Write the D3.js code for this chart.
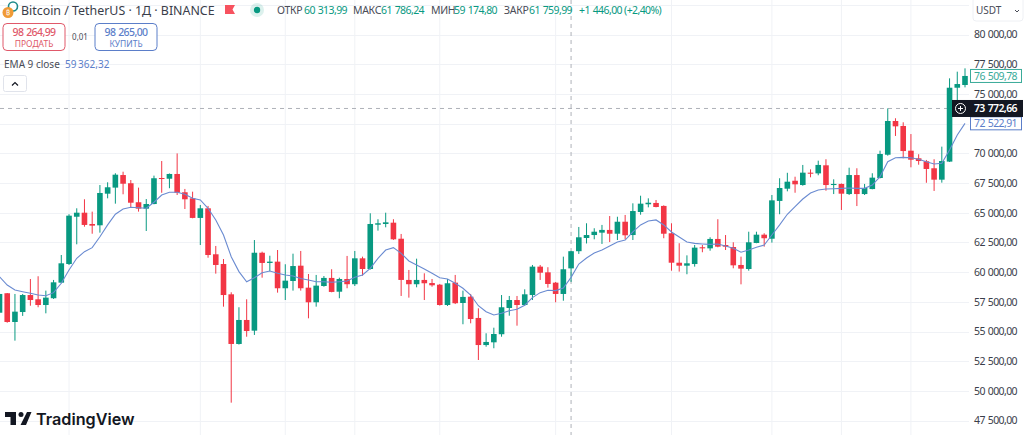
<!DOCTYPE html>
<html>
<head>
<meta charset="utf-8">
<script src="https://cdn.jsdelivr.net/npm/d3@7"></script>
<style>
html,body{margin:0;padding:0;background:#fff;overflow:hidden;}
text{font-family:"Noto Sans",sans-serif;}
.num{letter-spacing:-0.6px;}
</style>
</head>
<body>
<div id="chart"></div>
<script>
var opens=[56580,58220,55800,56640,58070,57710,57230,57800,59110,60680,64660,65000,64050,63940,66600,67110,68170,67480,65880,65340,
65730,67920,67860,68260,66720,66210,64560,65370,61500,60680,58130,53950,55970,55070,61630,60770,60880,58640,59250,60540,
58690,57460,58830,59510,58350,59420,58980,61160,60260,63990,64050,64160,62810,59340,58980,59340,59080,58940,57230,59110,
57400,57930,56140,53860,54090,54770,56980,57650,57230,58070,60460,59980,59110,58160,60313.99,61760,62870,63120,63320,63550,
63230,64240,63120,65060,65710,65820,65570,63270,60790,60540,60680,62090,62000,62790,62280,62110,60600,60260,62450,63150,
62810,65990,67020,67690,67330,68370,68310,68990,67330,67420,66570,68170,66570,66990,67920,69880,72720,72300,70220,69580,
69330,68740,67780,69300,75520,75750];
var highs=[58350,58240,58160,58160,59420,59650,58440,59340,61440,64870,65370,66130,65090,67330,67560,68320,68450,67750,67110,66150,
68120,69350,68300,69990,67000,66770,65650,65570,62200,61100,58300,57040,57710,62700,61720,61380,61860,60660,61550,61780,
59840,59760,59670,60240,59530,61360,61780,61300,64950,64450,65000,64450,63210,60180,61130,59900,59420,59000,59420,59760,
58440,58160,56950,54850,55320,58070,57990,57990,58550,60600,60600,60410,59170,61300,61786.24,63800,64110,63690,63970,64720,
64660,64810,65790,66430,66210,66070,65620,64110,62430,61410,62280,62280,62930,64450,63120,62510,61300,63400,63400,63270,
66490,67900,68360,68030,69020,68650,69380,69500,67810,67460,68790,68740,67420,68320,70220,73780,72950,72610,71620,69920,
69440,69500,70560,76310,76870,77150];
var lows=[56530,55740,54230,56310,57170,57040,56530,57740,59060,60600,62340,63820,63230,63320,66210,65760,66550,65450,65090,63460,
65710,66680,67060,66490,65310,64530,62280,61210,59870,57090,49010,53900,54560,54710,59530,60090,58270,57650,58440,58440,
56110,57090,58770,58300,57800,58640,58830,59700,60210,63490,63770,62710,57990,57850,58720,57650,58770,57180,57150,57310,
55610,55690,52600,53720,53590,54560,56330,55490,57170,57650,59340,58690,57460,57590,59174.8,61530,62410,62760,62370,62530,
62700,62760,62700,64830,65450,65450,62850,60120,60040,59820,60460,61670,61800,62090,61860,60320,58970,60120,62430,62140,
62480,64870,66800,66680,67270,67980,68150,66850,66570,65230,66490,65560,66490,66970,67890,69800,71460,69580,68820,69040,
67520,66830,67530,69270,74230,75550];
var closes=[58160,55800,56670,58070,57650,57230,57850,59140,60740,64750,65000,63970,63910,66660,67140,68200,67440,65840,65340,65730,
67900,67840,68260,66680,66130,64560,65370,61440,60600,58070,53950,55970,55040,61630,60770,60880,58640,59280,60510,58640,
57460,58860,59510,58330,59420,58980,61160,60260,64050,64110,64190,62760,59340,58980,59340,59060,58890,57230,59060,57380,
57910,56050,53860,54120,54790,57040,57650,57230,58130,60460,59950,59000,58160,60240,61759.99,62930,63120,63400,63550,63230,
64240,63100,65140,65760,65840,65480,63230,60790,60540,60740,62060,62000,62790,62140,62140,60570,60290,62510,63150,62850,
66040,67080,67610,67390,68370,68280,69020,67330,67420,66600,68170,66570,67080,67950,69940,72720,72270,70190,69460,69350,
68680,67780,69350,75520,75830,76509.78];
var ema=[59610,58910,58490,58350,58220,58070,58010,58270,59060,60180,61160,61720,62060,62980,63970,64870,65310,65460,65420,65370,
65880,66490,66720,66720,66550,66210,66070,65370,64390,63120,61300,60040,59190,59530,59950,60090,59900,59760,59670,59460,
59340,59190,59190,59140,59190,59250,59560,59760,60320,61160,61860,62060,61580,60940,60600,60260,59900,59530,59420,59060,
58640,58070,57170,56670,56390,56530,56750,56870,57210,57850,58270,58470,58440,58660,59560,60680,61190,61610,61860,62200,
62530,62700,63380,63970,64300,64390,63970,63380,62960,62530,62420,62370,62330,62370,62200,62000,61670,61860,62090,62280,
63120,63970,64870,65510,66150,66660,66910,67000,67020,67050,67080,67050,67050,67330,68030,69290,69630,69660,69630,69500,
69290,69100,69160,70280,71540,72522.91];
var gridCandles=[9,26,37,46,57,72,87,100,109,118];
var priceTicks=[47500,50000,52500,55000,57500,60000,62500,65000,67500,70000,72500,75000,77500,80000,82500];
var ohlcLabels=[["ОТКР","60\u2004313,99",277,304],["МАКС","61\u2004786,24",353,381],["МИН","59\u2004174,80",431,454],["ЗАКР","61\u2004759,99",504,529]];
var crossIndex=74, crossPrice=73772.66, lastClose=76509.78, lastEma=72522.91;

var width=1024, height=435, plotRight=969;
var red="#f23645", green="#089981", blue="#6a8bd1", txt="#4a4d58";

var svg=d3.select('#chart').append('svg')
    .attr('width', width)
    .attr('height', height)
    .style('display','block');

var x=d3.scalePoint()
    .domain(d3.range(opens.length))
    .range([-0.5, 965]);

var y=d3.scaleLinear()
    .domain([47500, 80000])
    .range([420.6, 34.5]);

var ru=d3.formatLocale({decimal:",", thousands:"\u2004", grouping:[3], currency:["",""]});
var price=ru.format(",.2f");

// grid
svg.append('g').selectAll('line').data(priceTicks).join('line')
    .attr('x1',0).attr('x2',plotRight)
    .attr('y1',d=>Math.round(y(d))+0.5).attr('y2',d=>Math.round(y(d))+0.5)
    .attr('stroke','#f0f2f6');
svg.append('g').selectAll('line').data(gridCandles).join('line')
    .attr('x1',d=>x(d)).attr('x2',d=>x(d))
    .attr('y1',0).attr('y2',height)
    .attr('stroke','#f0f2f6');

// price axis, 72 500 sits under the EMA label so it is left out
var axis=svg.append('g')
    .attr('transform','translate(1017,0)')
    .call(d3.axisLeft(y).tickValues(priceTicks.filter(d=>d<=80000 && d!=72500)).tickSize(0).tickPadding(0).tickFormat(price));
axis.select('.domain').remove();
axis.selectAll('text').attr('class','num').style('font-size','10.5px').style('font-family','"Noto Sans",sans-serif').attr('fill','#3a3e4a');

// crosshair
svg.append('line').attr('x1',0).attr('x2',952)
    .attr('y1',y(crossPrice)).attr('y2',y(crossPrice))
    .attr('stroke','#aeb1b9').attr('stroke-dasharray','4,4');
svg.append('line').attr('x1',x(crossIndex)).attr('x2',x(crossIndex))
    .attr('y1',0).attr('y2',height)
    .attr('stroke','#aeb1b9').attr('stroke-dasharray','4,4');

// candles
var idx=d3.range(opens.length);
var color=i=>closes[i]>=opens[i]?green:red;
svg.append('g').selectAll('line').data(idx).join('line')
    .attr('x1',i=>x(i)).attr('x2',i=>x(i))
    .attr('y1',i=>y(highs[i])).attr('y2',i=>y(lows[i]))
    .attr('stroke',color).attr('stroke-width',1);
svg.append('g').selectAll('rect').data(idx).join('rect')
    .attr('x',i=>x(i)-2.8)
    .attr('width',5.6)
    .attr('y',i=>y(Math.max(opens[i],closes[i])))
    .attr('height',i=>Math.max(1,Math.abs(y(opens[i])-y(closes[i]))))
    .attr('fill',color);

// EMA
svg.append('path')
    .attr('d',d3.line().x((d,i)=>x(i)).y(d=>y(d))(ema))
    .attr('fill','none').attr('stroke',blue).attr('stroke-width',1.1);

// header
var head=svg.append('g');
head.append('circle').attr('cx',13).attr('cy',6.5).attr('r',4.5).attr('fill','#fff').attr('stroke','#1e8a8a').attr('stroke-width',1.6);
head.append('circle').attr('cx',8).attr('cy',12.5).attr('r',5.5).attr('fill','#f09a36');
head.append('text').attr('x',8).attr('y',15).attr('text-anchor','middle').attr('font-size',7).attr('fill','#fff').text('₿');
head.append('text').attr('x',21).attr('y',15).attr('font-size',12.4).attr('fill','#3a3e4a').text('Bitcoin / TetherUS · 1Д · BINANCE');
head.append('path').attr('d','M225 5H235L232.5 9.5L235 14H225Z').attr('fill','#f7525f');
head.append('circle').attr('cx',257).attr('cy',10).attr('r',7).attr('fill','#089981').attr('opacity',0.14);
head.append('circle').attr('cx',257).attr('cy',10).attr('r',3.2).attr('fill','#089981');
ohlcLabels.forEach(function(d){
    head.append('text').attr('x',d[2]).attr('y',14).attr('font-size',10.5).attr('fill',txt).attr('letter-spacing',-0.3).text(d[0]);
    head.append('text').attr('class','num').attr('x',d[3]).attr('y',14).attr('font-size',10.5).attr('fill',green).text(d[1]);
});
head.append('text').attr('class','num').attr('x',579).attr('y',14).attr('font-size',10.5).attr('fill',green).text('+1\u2004446,00 (+2,40%)');

// buy and sell boxes
function tradeBox(x0,col,val,label){
    head.append('rect').attr('x',x0).attr('y',23.5).attr('width',62).attr('height',27).attr('rx',4)
        .attr('fill','#fff').attr('stroke',col);
    head.append('text').attr('class','num').attr('x',x0+31).attr('y',36).attr('text-anchor','middle').attr('font-size',10.5).attr('font-weight',500).attr('fill',col).text(val);
    head.append('text').attr('x',x0+31).attr('y',47).attr('text-anchor','middle').attr('font-size',8.5).attr('fill',col).text(label);
}
tradeBox(3,'#e0596a','98\u2004264,99','ПРОДАТЬ');
tradeBox(95,'#5b7ec9','98\u2004265,00','КУПИТЬ');
head.append('text').attr('x',80).attr('y',40).attr('text-anchor','middle').attr('font-size',8).attr('fill',txt).text('0,01');
head.append('text').attr('x',4).attr('y',68).attr('font-size',10).attr('fill',txt).text('EMA 9 close');
head.append('text').attr('x',65).attr('y',68).attr('font-size',10).attr('fill','#5b7ec9').text('59\u2009362,32');
head.append('rect').attr('x',3.5).attr('y',75.5).attr('width',23).attr('height',16).attr('rx',2).attr('fill','#fff').attr('stroke','#e0e3eb');
head.append('path').attr('d','M12 85.5L15 82.5L18 85.5').attr('fill','none').attr('stroke','#131722').attr('stroke-width',1.2);

// currency box
head.append('rect').attr('x',973).attr('y',-3).attr('width',50).attr('height',24).attr('rx',3).attr('fill','#fff').attr('stroke','#eef0f4');
head.append('text').attr('x',976).attr('y',14).attr('font-size',10).attr('fill',txt).text('USDT');
head.append('path').attr('d','M1015 10L1017 12L1019 10').attr('fill','none').attr('stroke',txt);

// price labels
function priceLabel(v,col){
    var cy=y(v);
    svg.append('rect').attr('x',970.5).attr('y',cy-6.5).attr('width',51).attr('height',13).attr('fill','#fff').attr('stroke',col);
    svg.append('text').attr('class','num').attr('x',1017).attr('y',cy+4).attr('text-anchor','end').attr('font-size',10.5).attr('fill',col).text(price(v));
}
priceLabel(lastClose,'#3aab99');
priceLabel(lastEma,'#5b7ec9');
var cy=y(crossPrice);
svg.append('rect').attr('x',952).attr('y',cy-8.5).attr('width',71).attr('height',17).attr('fill','#131722');
svg.append('text').attr('class','num').attr('x',1017).attr('y',cy+4).attr('text-anchor','end').attr('font-size',10.5).attr('font-weight',600).attr('fill','#fff').text(price(crossPrice));
svg.append('circle').attr('cx',960.5).attr('cy',cy).attr('r',5).attr('fill','none').attr('stroke','#fff');
svg.append('path').attr('d','M958 '+cy+'H963M960.5 '+(cy-2.5)+'V'+(cy+2.5)).attr('stroke','#fff');

// logo
svg.append('path').attr('d','M5 412H16V425H10.5V417H5ZM27 412H31.5L26 425H20.5Z').attr('fill','#131722');
svg.append('circle').attr('cx',21).attr('cy',414.5).attr('r',2.5).attr('fill','#131722');
svg.append('text').attr('x',36).attr('y',425).attr('font-size',16.2).attr('font-weight',600).attr('fill','#131722')
    .style('font-family','Inter,sans-serif').text('TradingView');
</script>
</body>
</html>
